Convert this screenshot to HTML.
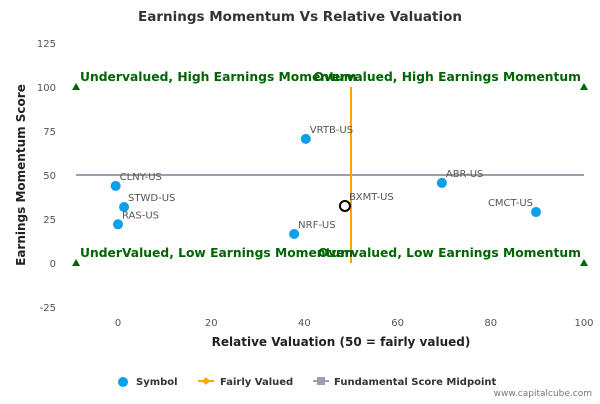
<!DOCTYPE html>
<html><head><meta charset="utf-8"><style>
body{margin:0;background:#fff;font-family:"DejaVu Sans","Liberation Sans",sans-serif}
svg text{font-family:"DejaVu Sans","Liberation Sans",sans-serif}
</style></head><body>
<svg id="c" width="600" height="400" xmlns="http://www.w3.org/2000/svg">
<text x="300" y="21" text-anchor="middle" font-size="13.5" font-weight="bold" fill="#333">Earnings Momentum Vs Relative Valuation</text>
<g id="grid"></g><g id="marks"></g>
<text x="341" y="346" text-anchor="middle" font-size="12" font-weight="bold" fill="#222">Relative Valuation (50 = fairly valued)</text>
<text transform="translate(25,175) rotate(-90)" text-anchor="middle" font-size="12" font-weight="bold" fill="#222">Earnings Momentum Score</text>
<g font-size="10" font-weight="bold" fill="#333">
<g><circle cx="123" cy="382" r="5" fill="#0ba0e8"/><text x="136" y="385">Symbol</text></g>
<g><line x1="198" y1="381" x2="214" y2="381" stroke="#ffa500" stroke-width="2"/><path d="M206 377 L210 381 L206 385 L202 381Z" fill="#ffa500"/><text x="220" y="385">Fairly Valued</text></g>
<g><line x1="313" y1="381" x2="329" y2="381" stroke="#9aa0ab" stroke-width="2"/><rect x="317" y="377" width="8" height="8" fill="#9aa0ab"/><text x="334" y="385">Fundamental Score Midpoint</text></g>
</g>
<text x="592" y="396" text-anchor="end" font-size="9" fill="#777">www.capitalcube.com</text>
</svg>
<script>
const names=["CLNY-US","STWD-US","RAS-US","VRTB-US","NRF-US","BXMT-US","ABR-US","CMCT-US"];
const xVals=[-0.5,1.3,0,40.3,37.8,48.7,69.5,89.7];
const yVals=[43.8,31.8,22,70.5,16.5,32.4,45.5,29];
const xTicks=[0,20,40,60,80,100];
const yTicks=[-25,0,25,50,75,100,125];
const X=v=>118+v*4.66, Y=v=>263-v*1.76;
const NS="http://www.w3.org/2000/svg";
function mk(p,t,a){const e=document.createElementNS(NS,t);for(const k in a)e.setAttribute(k,a[k]);p.appendChild(e);return e;}
const g=document.getElementById('grid'), m=document.getElementById('marks');
xTicks.forEach(t=>{const e=mk(g,'text',{x:X(t),y:326,'text-anchor':'middle','font-size':10,fill:'#555'});e.textContent=t;

});
yTicks.forEach(t=>{const e=mk(g,'text',{x:56,y:Y(t)+4,'text-anchor':'end','font-size':10,fill:'#555'});e.textContent=t;

});
let l=mk(m,'line',{x1:X(-9),x2:X(100),y1:Y(50),y2:Y(50),stroke:'#9aa0ab','stroke-width':2});


l=mk(m,'line',{x1:X(50),x2:X(50),y1:Y(100),y2:Y(0),stroke:'#ffa500','stroke-width':2});


[[-9,100],[100,100],[-9,0],[100,0]].forEach((c,i)=>{const e=mk(m,'path',{d:`M${X(c[0])} ${Y(c[1])-4} L${X(c[0])+4} ${Y(c[1])+3} L${X(c[0])-4} ${Y(c[1])+3}Z`,fill:'#006400'});

});
[["Undervalued, High Earnings Momentum",80,81],["Overvalued, High Earnings Momentum",581,81],["UnderValued, Low Earnings Momentum",80,257],["Overvalued, Low Earnings Momentum",581,257]].forEach(q=>{
const e=mk(m,'text',{x:q[1],y:q[2],'text-anchor':q[1]>300?'end':'start','font-size':12.3,'font-weight':'bold',fill:'#006400'});e.textContent=q[0];

});
names.forEach((n,i)=>{const bx=n==="BXMT-US";
const c=mk(m,'circle',{cx:X(xVals[i]),cy:Y(yVals[i]),r:5,fill:bx?'#fff':'#0ba0e8',stroke:bx?'#000':'none','stroke-width':2});


const right=n==="CMCT-US";
const t=mk(m,'text',{x:X(xVals[i])+(right?-3:4),y:Y(yVals[i])-6,'text-anchor':right?'end':'start','font-size':10,fill:'#555'});t.textContent=n;

});
</script>
</body></html>
